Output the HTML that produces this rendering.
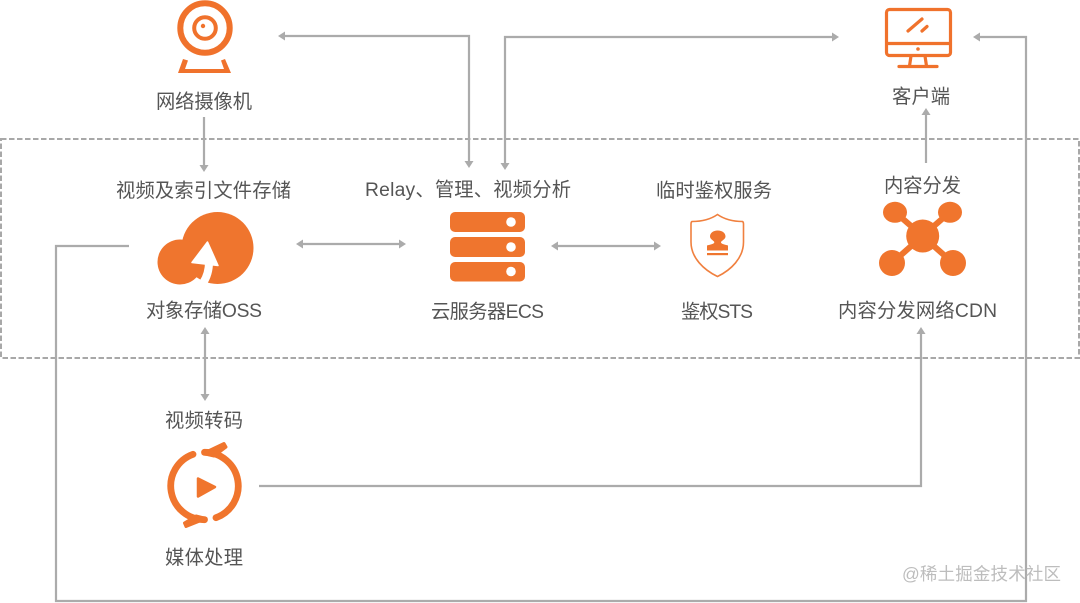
<!DOCTYPE html>
<html><head><meta charset="utf-8"><style>
html,body{margin:0;padding:0;background:#fff;width:1080px;height:603px;overflow:hidden}
svg{display:block}
text{font-family:"Liberation Sans","Noto Sans CJK SC",sans-serif;font-size:19.300px;fill:#555;text-anchor:start}
.l{fill:none;stroke:#ababab;stroke-width:2.200}
.h{fill:#ababab;stroke:none}
.o{fill:#ef752e}
</style></head><body>
<svg width="1080" height="603" viewBox="0 0 1080 603" xmlns="http://www.w3.org/2000/svg">
<rect x="1" y="139" width="1078" height="219" fill="none" stroke="#a8a8a8" stroke-width="2" stroke-dasharray="5.500 2.500"/>

<!-- connectors -->
<path class="l" d="M284 36H469V162"/>
<path class="h" d="M278 36l7-4.500v9zM469 168l-4.500-7h9z"/>
<path class="l" d="M505 163V37H832"/>
<path class="h" d="M505 170l-4.500-7h9zM839 37l-7-4.500v9z"/>
<path class="l" d="M204 117V166"/>
<path class="h" d="M204 172l-4.500-7h9z"/>
<path class="l" d="M302 244H400"/>
<path class="h" d="M296 244l7-4.500v9zM406 244l-7-4.500v9z"/>
<path class="l" d="M557 246H655"/>
<path class="h" d="M551 246l7-4.500v9zM661 246l-7-4.500v9z"/>
<path class="l" d="M205 333V395"/>
<path class="h" d="M205 327l-4.500 7h9zM205 401l-4.500-7h9z"/>
<path class="l" d="M926 163V114"/>
<path class="h" d="M926 108l-4.500 7h9z"/>
<path class="l" d="M259 486H921V333"/>
<path class="h" d="M921 327l-4.500 7h9z"/>
<path class="l" d="M129 246H56V601H1026V37H979"/>
<path class="h" d="M973 37l7-4.500v9z"/>

<!-- camera -->
<circle cx="205" cy="28" r="24.700" fill="none" stroke="#f0722c" stroke-width="6"/>
<circle cx="205" cy="28" r="10.800" fill="none" stroke="#f0722c" stroke-width="4"/>
<circle cx="203" cy="26" r="2.200" fill="#f0722c"/>
<path d="M183 59L178 73H231L225 59L221 60.500L224 69H185L188 60.500Z" fill="#f0722c"/>

<!-- client -->
<rect x="886.500" y="9.500" width="64" height="46" rx="3" fill="none" stroke="#f0722c" stroke-width="3.200"/>
<path d="M887 43.500H950" stroke="#f0722c" stroke-width="3.200"/>
<path d="M908 31L922 19M922 31L927 26.500" stroke="#f0722c" stroke-width="3.200" stroke-linecap="round"/>
<circle cx="918" cy="49" r="1.800" fill="#f0722c"/>
<path d="M911 56L909.500 66M925 56L926.500 66M899 66.500H937" fill="none" stroke="#f0722c" stroke-width="3.200" stroke-linecap="round"/>

<!-- OSS -->
<circle class="o" cx="217.500" cy="248" r="36"/>
<circle class="o" cx="180" cy="262" r="22.500"/>
<path d="M207.500 242L192 262.500L218 265.500Z" fill="#fff" stroke="#fff" stroke-width="1.500" stroke-linejoin="round"/>
<path d="M209 262Q209 274 203 283" fill="none" stroke="#fff" stroke-width="8"/>

<!-- ECS -->
<rect class="o" x="450" y="212" width="75" height="20" rx="5"/>
<rect class="o" x="450" y="237" width="75" height="20" rx="5"/>
<rect class="o" x="450" y="262" width="75" height="19.500" rx="5"/>
<circle cx="511" cy="222" r="4.800" fill="#fff"/>
<circle cx="511" cy="247" r="4.800" fill="#fff"/>
<circle cx="511" cy="271.500" r="4.800" fill="#fff"/>

<!-- STS -->
<path d="M717.500 214.500C711 219 702 221.500 692 221.500C691 222 691 223 691 224V242C691 258 704 270 717.500 276.500C731 270 743.500 258 743.500 242V224C743.500 223 743.500 222 742.500 221.500C733 221.500 724 219 717.500 214.500Z" fill="none" stroke="#f0803f" stroke-width="1.600"/>
<path d="M717.700 230.500C722.500 230.500 725.500 233 725.500 236.500C725.500 239 722 240.500 721 242C720.500 244 725 244.500 728 245.500V250.500H707V245.500C710 244.500 714.800 244 714.300 242C713.500 240.500 710 239 710 236.500C710 233 713 230.500 717.700 230.500Z" class="o"/>
<rect class="o" x="707" y="253" width="21" height="2.200"/>

<!-- CDN -->
<path d="M895 212L922.500 236L950 212M892 263L922.500 236L953 263" fill="none" stroke="#f0752d" stroke-width="6"/>
<circle cx="922.700" cy="236" r="16.500" fill="#f0752d"/>
<ellipse cx="895" cy="212.300" rx="12" ry="10.500" fill="#f0752d"/>
<ellipse cx="950" cy="212.300" rx="12" ry="10.500" fill="#f0752d"/>
<ellipse cx="892" cy="263" rx="13" ry="13" fill="#f0752d"/>
<ellipse cx="953" cy="263" rx="13" ry="13" fill="#f0752d"/>

<!-- media -->
<path d="M193 454.300A33.700 33.700 0 0 0 204.500 519.700" fill="none" stroke="#f0752d" stroke-width="6.800" stroke-linecap="round"/>
<path d="M204.500 452.300A33.700 33.700 0 0 1 216 517.700" fill="none" stroke="#f0752d" stroke-width="6.800" stroke-linecap="round"/>
<path d="M203 453.500L224 443.500L226 447L214 456Z" fill="#f0752d" stroke="#f0752d" stroke-width="3" stroke-linejoin="round"/>
<path d="M206 518.500L186 526.500L184.500 523L196 516Z" fill="#f0752d" stroke="#f0752d" stroke-width="3" stroke-linejoin="round"/>
<path d="M198 478.500L215 487L198 496.500Z" fill="#f0752d" stroke="#f0752d" stroke-width="2.500" stroke-linejoin="round"/>

<!-- labels -->
<text x="156" y="108" textLength="96">网络摄像机</text>
<text x="892" y="103" textLength="58">客户端</text>
<text x="116" y="197" textLength="175">视频及索引文件存储</text>
<text x="365" y="196" textLength="206">Relay、管理、视频分析</text>
<text x="656" y="197" textLength="116">临时鉴权服务</text>
<text x="884" y="192" textLength="77">内容分发</text>
<text x="146" y="317" textLength="116">对象存储OSS</text>
<text x="431" y="318" textLength="113">云服务器ECS</text>
<text x="681" y="318" textLength="72">鉴权STS</text>
<text x="838" y="317" textLength="159">内容分发网络CDN</text>
<text x="165" y="427" textLength="78">视频转码</text>
<text x="165" y="564" textLength="78">媒体处理</text>
<text x="902" y="580" textLength="159" style="font-size:17.500px;fill:#bdbdbd">@稀土掘金技术社区</text>
</svg>
</body></html>
